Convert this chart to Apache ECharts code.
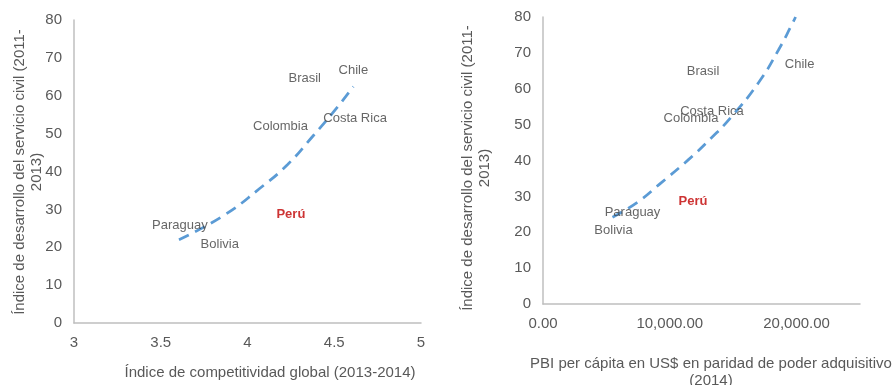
<!DOCTYPE html>
<html>
<head>
<meta charset="utf-8">
<script src="https://cdn.jsdelivr.net/npm/echarts@6/dist/echarts.min.js"></script>
<style>
html,body{margin:0;padding:0;background:#fff;}
#c{width:896px;height:385px;}
</style>
</head>
<body>
<div id="c"></div>
<script>
// ---- Data ----
const countries = ['Chile', 'Brasil', 'Costa Rica', 'Colombia', 'Perú', 'Paraguay', 'Bolivia'];
// Left chart: competitiveness index vs civil service index
const gciValues = [4.61, 4.33, 4.62, 4.19, 4.25, 3.61, 3.84];
const civilLeft = [66.8, 64.7, 54.0, 51.8, 28.7, 25.8, 20.8];
// Right chart: GDP per capita PPP vs civil service index
const gdpValues = [20240, 12620, 13330, 11670, 11830, 7060, 5560];
const civilRight = [66.9, 64.9, 53.8, 51.8, 28.7, 25.6, 20.6];
// Trend lines
const trendLeftX = [3.605, 3.86, 4.07, 4.23, 4.38, 4.49, 4.61];
const trendLeftY = [22.0, 28.3, 35.5, 41.8, 49.5, 55.4, 62.4];
const trendRightX = [5480, 7460, 9290, 11430, 13250, 14840, 16980, 18570, 19600, 19920];
const trendRightY = [24.2, 28.4, 33.7, 40.1, 46.2, 52.1, 61.6, 70.8, 77.7, 80];
// Axis titles
const yTitle = 'Índice de desarrollo del servicio civil (2011-\n2013)';
const xTitleLeft = 'Índice de competitividad global (2013-2014)';
const xTitleRight = 'PBI per cápita en US$ en paridad de poder adquisitivo\n(2014)';

const FONT = '"Liberation Sans", Arial, sans-serif';
const tickColor = '#595959';
const labelColor = '#404040';
const trendColor = '#5b9bd5';

function labelData(xs, ys) {
  return countries.map((n, i) => {
    const d = { name: n, value: [xs[i], ys[i]] };
    if (n === 'Perú') {
      d.label = { color: '#c00000', fontWeight: 'bold' };
    }
    return d;
  });
}
function pairs(xs, ys) { return xs.map((x, i) => [x, ys[i]]); }

const axisLineStyle = { show: true, lineStyle: { color: '#bfbfbf', width: 1.5 } };
const tickLabel = { color: tickColor, fontSize: 15, fontFamily: FONT, margin: 12 };

const option = {
  animation: false,
  backgroundColor: '#fff',
  grid: [
    { left: 74, right: 475, top: 20, bottom: 62 },
    { left: 543, right: 36, top: 17, bottom: 81 }
  ],
  xAxis: [
    {
      gridIndex: 0, type: 'value', min: 3, max: 5, interval: 0.5,
      axisLine: axisLineStyle, axisTick: { show: false }, splitLine: { show: false },
      axisLabel: Object.assign({}, tickLabel)
    },
    {
      gridIndex: 1, type: 'value', min: 0, max: 25000, interval: 10000,
      axisLine: axisLineStyle, axisTick: { show: false }, splitLine: { show: false },
      axisLabel: Object.assign({}, tickLabel, {
        showMaxLabel: false,
        formatter: v => v.toLocaleString('en-US', { minimumFractionDigits: 2, maximumFractionDigits: 2 })
      })
    }
  ],
  yAxis: [
    {
      gridIndex: 0, type: 'value', min: 0, max: 80, interval: 10,
      axisLine: axisLineStyle, axisTick: { show: false }, splitLine: { show: false },
      axisLabel: Object.assign({}, tickLabel)
    },
    {
      gridIndex: 1, type: 'value', min: 0, max: 80, interval: 10,
      axisLine: axisLineStyle, axisTick: { show: false }, splitLine: { show: false },
      axisLabel: Object.assign({}, tickLabel)
    }
  ],
  series: [
    {
      type: 'line', xAxisIndex: 0, yAxisIndex: 0, data: pairs(trendLeftX, trendLeftY),
      smooth: true, symbol: 'none', z: 1,
      lineStyle: { color: trendColor, width: 2.75, type: [11, 7] }
    },
    {
      type: 'line', xAxisIndex: 1, yAxisIndex: 1, data: pairs(trendRightX, trendRightY),
      smooth: true, symbol: 'none', z: 1,
      lineStyle: { color: trendColor, width: 2.75, type: [11, 7] }
    },
    {
      type: 'scatter', xAxisIndex: 0, yAxisIndex: 0, data: labelData(gciValues, civilLeft),
      symbolSize: 1, itemStyle: { color: 'rgba(0,0,0,0)' }, z: 3,
      label: { show: true, position: 'inside', formatter: p => p.name, color: labelColor, fontSize: 13, fontFamily: FONT }
    },
    {
      type: 'scatter', xAxisIndex: 1, yAxisIndex: 1, data: labelData(gdpValues, civilRight),
      symbolSize: 1, itemStyle: { color: 'rgba(0,0,0,0)' }, z: 3,
      label: { show: true, position: 'inside', formatter: p => p.name, color: labelColor, fontSize: 13, fontFamily: FONT }
    }
  ],
  graphic: [
    { type: 'text', x: 28, y: 172, rotation: Math.PI / 2,
      style: { text: yTitle, fill: tickColor, font: '15px ' + FONT, align: 'center', verticalAlign: 'middle', lineHeight: 17 } },
    { type: 'text', x: 476, y: 168, rotation: Math.PI / 2,
      style: { text: yTitle, fill: tickColor, font: '15px ' + FONT, align: 'center', verticalAlign: 'middle', lineHeight: 17 } },
    { type: 'text', x: 270, y: 373,
      style: { text: xTitleLeft, fill: tickColor, font: '15px ' + FONT, align: 'center', verticalAlign: 'middle' } },
    { type: 'text', x: 711, y: 372,
      style: { text: xTitleRight, fill: tickColor, font: '15px ' + FONT, align: 'center', verticalAlign: 'middle', lineHeight: 17 } }
  ]
};

const chart = echarts.init(document.getElementById('c'), null, { renderer: 'canvas' });
chart.setOption(option);
</script>
</body>
</html>
